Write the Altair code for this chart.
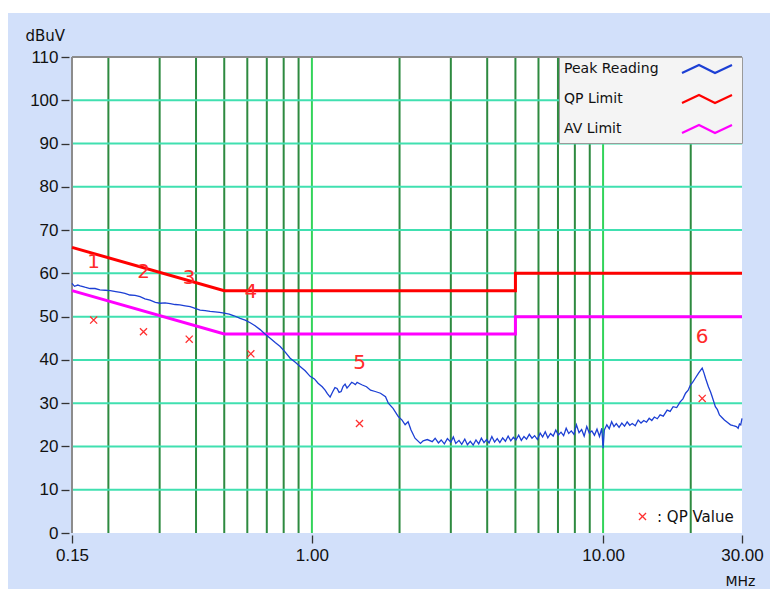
import altair as alt
import pandas as pd

# ---------------- data ----------------
peak_freq = [
    0.150, 0.153, 0.157, 0.160, 0.166, 0.173, 0.180, 0.187, 0.195, 0.203, 0.212, 0.220,
    0.228, 0.237, 0.247, 0.257, 0.267, 0.278, 0.290, 0.301, 0.313, 0.326, 0.339, 0.352,
    0.367, 0.382, 0.397, 0.413, 0.430, 0.447, 0.465, 0.482, 0.500, 0.520, 0.540, 0.567,
    0.590, 0.614, 0.638, 0.664, 0.690, 0.719, 0.748, 0.778, 0.810, 0.842, 0.875, 0.911,
    0.948, 0.986, 1.020, 1.050, 1.085, 1.110, 1.130, 1.155, 1.180, 1.200, 1.220, 1.240,
    1.260, 1.280, 1.300, 1.320, 1.340, 1.370, 1.390, 1.410, 1.430, 1.460, 1.490, 1.540,
    1.590, 1.650, 1.720, 1.790, 1.830, 1.900, 1.980, 2.040, 2.090, 2.140, 2.190, 2.260,
    2.360, 2.410, 2.490, 2.590, 2.650, 2.720, 2.780, 2.850, 2.920, 3.000, 3.060, 3.120,
    3.200, 3.270, 3.350, 3.420, 3.500, 3.580, 3.660, 3.740, 3.820, 3.900, 3.980, 4.060,
    4.150, 4.240, 4.330, 4.420, 4.520, 4.620, 4.720, 4.820, 4.920, 5.020, 5.130, 5.240,
    5.350, 5.460, 5.580, 5.700, 5.820, 5.950, 6.080, 6.200, 6.330, 6.460, 6.600, 6.740,
    6.880, 7.020, 7.170, 7.320, 7.470, 7.620, 7.780, 7.940, 8.100, 8.270, 8.440, 8.610,
    8.790, 8.970, 9.150, 9.340, 9.530, 9.720, 9.900, 10.00, 10.10, 10.30, 10.50, 10.70,
    10.90, 11.10, 11.35, 11.60, 11.85, 12.10, 12.35, 12.60, 12.90, 13.20, 13.50, 13.80,
    14.10, 14.40, 14.70, 15.00, 15.35, 15.70, 16.10, 16.60, 17.00, 17.40, 17.90, 18.40,
    18.80, 19.20, 19.60, 19.95, 20.30, 20.70, 21.30, 21.90, 22.20, 22.50, 23.00, 23.40,
    23.70, 24.30, 24.70, 25.10, 25.60, 26.10, 26.70, 27.40, 28.00, 28.70, 29.10, 29.40,
    29.70, 30.00,
]
peak_level = [
    57.7, 57.0, 57.3, 57.1, 56.8, 56.5, 56.5, 56.2, 56.1, 56.0, 55.8, 55.6,
    55.4, 55.0, 54.9, 54.6, 54.1, 53.8, 53.3, 53.1, 53.2, 53.0, 52.8, 52.7,
    52.5, 52.3, 51.9, 51.5, 51.4, 51.2, 51.1, 51.0, 50.8, 50.6, 50.2, 49.6,
    49.2, 48.6, 47.9, 47.0, 46.0, 45.0, 44.0, 43.1, 41.8, 40.4, 39.5, 38.5,
    37.5, 36.2, 35.6, 34.6, 33.8, 33.0, 32.2, 31.4, 32.7, 33.6, 33.4, 32.5,
    32.7, 33.9, 34.4, 33.5, 34.0, 34.8, 34.6, 34.3, 34.8, 34.5, 34.2, 33.8,
    33.0, 32.7, 32.3, 31.5, 30.0, 28.8, 26.9, 26.1, 25.0, 25.7, 23.8, 21.9,
    20.7, 21.3, 21.6, 21.1, 21.9, 20.8, 21.5, 20.6, 21.8, 21.0, 22.2, 20.7,
    21.4, 20.5, 21.7, 20.4, 21.2, 20.3, 21.5, 20.6, 21.9, 20.9, 21.6, 20.8,
    22.3, 21.0, 21.8, 20.9, 22.0, 21.2, 22.4, 21.3, 22.1, 21.5, 22.6, 21.4,
    22.3, 21.7, 22.8, 21.9, 22.5, 21.6, 23.1, 22.2, 23.4, 22.0, 23.0, 22.4,
    23.8, 22.6, 23.3, 22.5, 24.2, 23.0, 23.6, 22.8, 25.0, 23.2, 23.9, 22.4,
    24.6, 23.1, 23.6, 22.6, 24.0, 22.3, 24.2, 19.6, 23.8, 25.0, 24.1, 25.7,
    24.6, 25.3, 24.4, 25.4, 24.7, 25.7, 24.9, 25.3, 24.8, 26.1, 25.4, 26.0,
    25.6, 26.5, 26.0, 26.8, 26.4, 27.3, 27.0, 28.4, 28.1, 29.2, 29.0, 30.3,
    31.0, 32.3, 33.0, 34.2, 34.8, 35.7, 37.0, 38.1, 37.0, 35.7, 33.8, 32.6,
    31.5, 29.2, 28.5, 27.3, 26.7, 26.1, 25.6, 25.0, 24.8, 24.6, 24.2, 25.2,
    25.0, 26.5,
]

limit_freq = [0.15, 0.5, 5.0, 5.0, 30.0]
qp_limit_level = [66, 56, 56, 60, 60]
av_limit_level = [56, 46, 46, 50, 50]

qp_freq = [0.178, 0.264, 0.379, 0.617, 1.457, 21.9]
qp_value = [49.2, 46.5, 44.8, 41.4, 25.3, 31.1]
marker_ids = ["1", "2", "3", "4", "5", "6"]
marker_level = [62.6, 60.3, 58.9, 55.6, 39.4, 45.4]

grid_dark = [0.2, 0.3, 0.4, 0.5, 0.6, 0.7, 0.8, 0.9, 2, 3, 4, 5, 6, 7, 8, 9, 20]
grid_bright = [1, 10]
grid_h = [10, 20, 30, 40, 50, 60, 70, 80, 90, 100]
y_ticks = [0, 10, 20, 30, 40, 50, 60, 70, 80, 90, 100, 110]
x_ticks = [0.15, 1, 10, 30]

series = ["Peak Reading", "QP Limit", "AV Limit"]
series_colors = ["#1c3fd4", "#ff0000", "#ff00ff"]

# ---------------- frames ----------------
peak_df = pd.DataFrame({"f": peak_freq, "v": peak_level, "s": series[0],
                        "i": list(range(len(peak_freq)))})
lim_df = pd.concat([
    pd.DataFrame({"f": limit_freq, "v": qp_limit_level, "s": series[1], "i": list(range(5))}),
    pd.DataFrame({"f": limit_freq, "v": av_limit_level, "s": series[2], "i": list(range(5))}),
])
qp_df = pd.DataFrame({"f": qp_freq, "v": qp_value, "k": ": QP Value"})
lbl_df = pd.DataFrame({"f": qp_freq, "v": marker_level, "t": marker_ids})
gd_df = pd.DataFrame({"f": grid_dark})
gb_df = pd.DataFrame({"f": grid_bright})
gh_df = pd.DataFrame({"v": grid_h})

W, H = 670, 476
xscale = alt.Scale(type="log", domain=[0.15, 30], nice=False)
yscale = alt.Scale(domain=[0, 110], nice=False)

x_axis = alt.Axis(values=x_ticks, format=".2f", title="MHz", grid=False, domain=False,
                  offset=2, tickSize=8, tickColor="#333333", tickWidth=1.3,
                  labelFont="Liberation Sans", labelFontSize=17, labelColor="#111111",
                  labelPadding=4, labelFlush=False, labelOverlap=False, labelBound=False,
                  titleFont="DejaVu Sans", titleFontSize=14, titleFontWeight="normal",
                  titleColor="#111111", titleAlign="left", titleBaseline="middle",
                  titleX=653, titleY=46)
y_axis = alt.Axis(values=y_ticks, title="dBuV", grid=False, domain=False,
                  offset=3, tickSize=8, tickColor="#333333", tickWidth=1.3,
                  labelFont="Liberation Sans", labelFontSize=17, labelColor="#111111",
                  labelPadding=3, labelOverlap=False, labelBound=False,
                  titleFont="DejaVu Sans", titleFontSize=15, titleFontWeight="normal",
                  titleColor="#111111", titleAngle=0, titleAlign="left",
                  titleBaseline="alphabetic", titleX=-44, titleY=-17)

X = alt.X("f:Q", scale=xscale, axis=x_axis)
Y = alt.Y("v:Q", scale=yscale, axis=y_axis)

# legend sample line drawn to the right of the label (size 4 -> 1 unit = 1 px)
zig = "M111,4L128,-4L144,4L161,-4"
line_legend = alt.Legend(
    title=None, orient="top-right", offset=0, padding=5,
    fillColor="#f4f4f4", strokeColor="#9a9a9a",
    symbolType=zig, symbolSize=4, symbolStrokeWidth=2.2,
    symbolFillColor="transparent",
    labelFont="DejaVu Sans", labelFontSize=14, labelColor="#111111",
    labelAlign="left", labelOffset={"expr": "-14"}, rowPadding=12,
)
color = alt.Color("s:N", scale=alt.Scale(domain=series, range=series_colors),
                  legend=line_legend)

xpath = "M-1,-1L1,1M1,-1L-1,1"
qp_legend = alt.Legend(
    title=None, orient="bottom-right", offset=8, padding=0,
    symbolStrokeColor="#ff3030", symbolFillColor="transparent",
    symbolSize=50, symbolStrokeWidth=1.3,
    labelFont="DejaVu Sans", labelFontSize=15, labelColor="#111111", labelOffset=7,
)

# ---------------- layers ----------------
margin_top = alt.Chart(gh_df).mark_rect(color="white").encode(
    x=alt.value(-72), x2=alt.value(W + 28), y=alt.value(-57), y2=alt.value(-44))
margin_left = alt.Chart(gh_df).mark_rect(color="white").encode(
    x=alt.value(-72), x2=alt.value(-64), y=alt.value(-57), y2=alt.value(H + 56))

v_dark = alt.Chart(gd_df).mark_rule(color="#2e8a40", strokeWidth=2).encode(x=X)
v_bright = alt.Chart(gb_df).mark_rule(color="#33d45a", strokeWidth=2).encode(x=X)
h_grid = alt.Chart(gh_df).mark_rule(color="#40e0b0", strokeWidth=2).encode(y=Y)

border_left = alt.Chart(gh_df).mark_rule(color="#8c8c8c", strokeWidth=1.5).encode(
    x=alt.value(0), y=alt.value(0), y2=alt.value(H))
border_top = alt.Chart(gh_df).mark_rule(color="#8c8c8c", strokeWidth=1.5).encode(
    x=alt.value(0), x2=alt.value(W), y=alt.value(0))

limits = alt.Chart(lim_df).mark_line(strokeWidth=3, interpolate="linear").encode(
    x=X, y=Y, color=color, detail="s:N", order=alt.Order("i:Q"))
peak = alt.Chart(peak_df).mark_line(strokeWidth=1.3).encode(
    x=X, y=Y, color=color, order=alt.Order("i:Q"))

qp_pts = alt.Chart(qp_df).mark_point(filled=False, color="#ff3030", strokeWidth=1.3,
                                     size=50, opacity=1).encode(
    x=X, y=Y,
    shape=alt.Shape("k:N", scale=alt.Scale(domain=[": QP Value"], range=[xpath]),
                    legend=qp_legend))

labels = alt.Chart(lbl_df).mark_text(font="DejaVu Sans", fontSize=20, color="#ff2a2a",
                                     baseline="middle", align="center").encode(
    x=X, y=Y, text="t:N")

chart = alt.layer(
    margin_top, margin_left, v_dark, v_bright, h_grid, border_left, border_top,
    limits, peak, qp_pts, labels
).properties(
    width=W, height=H,
    background="#d2e0fa",
    autosize=alt.AutoSizeParams(type="none"),
    padding={"left": 72, "top": 57, "right": 28, "bottom": 56},
).configure_view(fill="white", stroke=None)

chart.save("out.html", embed_options={"renderer": "svg", "actions": False})
